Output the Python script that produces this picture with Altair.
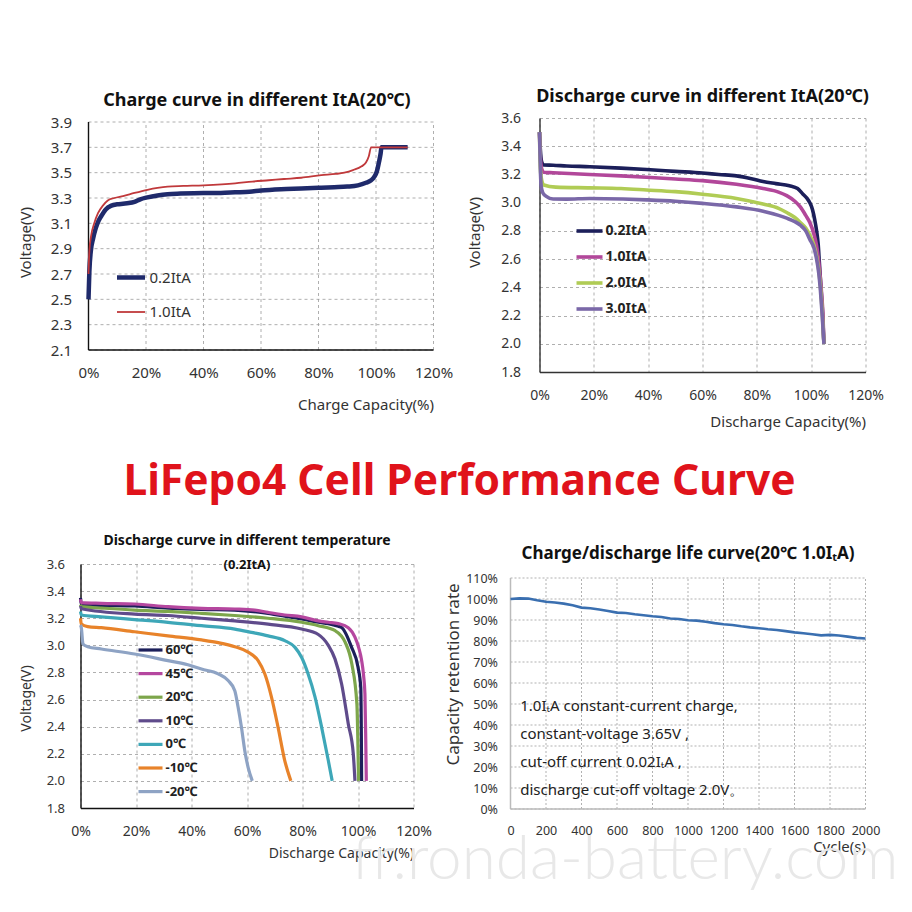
import altair as alt
import pandas as pd

# ---------------- Panel 1: charge curve (20C) ----------------
chg_names = ["0.2ItA", "1.0ItA"]
chg_colors = ["#1f2a6b", "#c0393b"]
chg_02_cap = [0, 0.3, 0.8, 1.6, 2.5, 3.5, 4.5, 6, 8, 10, 12, 14, 16, 18, 20.5, 24, 27.5, 32, 40, 46, 51, 56, 60, 67, 74, 80, 85.5, 90, 93.7, 96.5, 98.3, 99.5, 100.3, 101, 101.6, 101.9, 104, 108, 111]
chg_02_v = [2.50, 2.72, 2.88, 2.98, 3.06, 3.12, 3.16, 3.21, 3.24, 3.25, 3.255, 3.26, 3.27, 3.29, 3.305, 3.32, 3.33, 3.335, 3.34, 3.34, 3.345, 3.35, 3.36, 3.37, 3.375, 3.38, 3.385, 3.39, 3.40, 3.42, 3.44, 3.47, 3.51, 3.58, 3.65, 3.70, 3.70, 3.70, 3.70]
chg_10_cap = [0, 0.3, 0.9, 2, 3.3, 5, 6.7, 9, 12, 16, 20.5, 24, 27.5, 33, 40, 51, 57, 62.7, 68, 74, 81, 86, 89, 92, 95, 96.5, 97.5, 98.3, 100, 104, 108, 111]
chg_10_v = [2.70, 2.88, 3.00, 3.10, 3.18, 3.24, 3.28, 3.30, 3.315, 3.34, 3.365, 3.38, 3.39, 3.395, 3.40, 3.415, 3.43, 3.44, 3.45, 3.46, 3.48, 3.49, 3.50, 3.52, 3.55, 3.58, 3.63, 3.70, 3.70, 3.70, 3.70, 3.70]
chg_v_ticks = [2.1, 2.3, 2.5, 2.7, 2.9, 3.1, 3.3, 3.5, 3.7, 3.9]

# ---------------- Panel 2: discharge curve by ItA (20C) ----------------
dis_names = ["0.2ItA", "1.0ItA", "2.0ItA", "3.0ItA"]
dis_colors = ["#1c1f5a", "#b2479a", "#b0cc55", "#7a68a8"]
dis_02_cap = [0, 0.3, 0.8, 1.6, 5, 10, 18.5, 30, 39.4, 50, 60, 66, 72.5, 78, 82.3, 87, 92, 95, 97, 98.5, 99.5, 100.5, 101.3, 102, 102.6, 103, 103.4, 103.8, 104.2, 104.7]
dis_02_v = [3.50, 3.38, 3.29, 3.267, 3.265, 3.26, 3.255, 3.245, 3.235, 3.222, 3.21, 3.20, 3.19, 3.17, 3.15, 3.135, 3.12, 3.10, 3.06, 3.03, 3.00, 2.95, 2.88, 2.80, 2.70, 2.58, 2.46, 2.34, 2.22, 2.00]
dis_10_cap = [0, 0.3, 0.8, 1.6, 5, 18.5, 30, 39.4, 50, 60, 72.5, 82.3, 88, 91, 94, 96, 98, 99.5, 101, 102, 102.8, 103.4, 103.9, 104.3, 104.7]
dis_10_v = [3.50, 3.33, 3.24, 3.215, 3.212, 3.20, 3.19, 3.18, 3.168, 3.156, 3.13, 3.10, 3.075, 3.05, 3.01, 2.97, 2.91, 2.86, 2.78, 2.695, 2.58, 2.46, 2.34, 2.22, 2.00]
dis_20_cap = [0, 0.3, 0.8, 1.6, 6, 18.5, 30, 39.4, 50, 60, 72.5, 82.3, 88, 91, 94, 96, 98, 99.5, 101, 102, 102.8, 103.4, 104, 104.7]
dis_20_v = [3.50, 3.25, 3.16, 3.125, 3.11, 3.105, 3.10, 3.09, 3.078, 3.06, 3.03, 2.99, 2.96, 2.93, 2.895, 2.86, 2.82, 2.77, 2.70, 2.62, 2.52, 2.41, 2.25, 2.00]
dis_30_cap = [0, 0.3, 0.6, 1.2, 2.5, 5, 10, 18.5, 30.8, 39.4, 50, 60, 72.5, 82.3, 88, 91, 94, 96, 98, 99.5, 101, 102, 102.8, 103.4, 104, 104.7]
dis_30_v = [3.50, 3.25, 3.12, 3.07, 3.045, 3.026, 3.025, 3.03, 3.026, 3.02, 3.01, 2.995, 2.97, 2.94, 2.91, 2.89, 2.865, 2.84, 2.80, 2.74, 2.68, 2.60, 2.50, 2.38, 2.22, 2.00]
dis_v_ticks = [1.8, 2.0, 2.2, 2.4, 2.6, 2.8, 3.0, 3.2, 3.4, 3.6]

# ---------------- Panel 3: discharge by temperature (0.2ItA) ----------------
tmp_names = ["60℃", "45℃", "20℃", "10℃", "0℃", "-10℃", "-20℃"]
tmp_colors = ["#1c1f5a", "#b5479f", "#7da64b", "#5f4b8b", "#3ea7b8", "#e8832a", "#8ea3c4"]
tmp_widths = [3.2, 3.2, 2.2, 2.2, 2.0, 2.2, 2.0]
tmp_60_cap = [0, 0.3, 7.5, 19.5, 31.5, 43.6, 55.6, 67.6, 73.6, 79.7, 85.7, 89.3, 92.9, 94.2, 97.7, 100, 101, 101.2, 101.3]
tmp_60_v = [3.35, 3.30, 3.295, 3.29, 3.275, 3.265, 3.26, 3.235, 3.215, 3.195, 3.17, 3.16, 3.14, 3.13, 2.985, 2.84, 2.69, 2.35, 2.00]
tmp_45_cap = [0, 0.3, 7.5, 19.5, 31.5, 43.6, 55.6, 62.8, 67.6, 73.6, 79.7, 85.7, 89.3, 92.9, 96.5, 98.9, 100.3, 101.3, 102, 102.5, 102.8, 103]
tmp_45_v = [3.34, 3.315, 3.31, 3.305, 3.285, 3.273, 3.268, 3.26, 3.243, 3.224, 3.21, 3.18, 3.17, 3.16, 3.13, 3.06, 2.98, 2.89, 2.78, 2.64, 2.30, 2.00]
tmp_20_cap = [0, 0.3, 7.5, 19.5, 31.5, 43.6, 55.6, 67.6, 79.7, 85.7, 91.8, 95.4, 97.8, 99.6, 100.2]
tmp_20_v = [3.30, 3.285, 3.275, 3.26, 3.25, 3.236, 3.22, 3.20, 3.17, 3.145, 3.108, 3.022, 2.86, 2.567, 2.00]
tmp_10_cap = [0, 0.3, 19.5, 31.5, 43.6, 55.6, 67.6, 79.7, 85.7, 89.3, 91.7, 94.1, 96.5, 98.3, 98.9]
tmp_10_v = [3.29, 3.27, 3.23, 3.22, 3.20, 3.18, 3.156, 3.12, 3.08, 3.00, 2.90, 2.715, 2.42, 2.20, 2.00]
tmp_0_cap = [0, 0.3, 7.5, 19.5, 31.5, 43.6, 55.6, 61.6, 67.6, 73.6, 77.3, 79.7, 82, 84.5, 86.9, 89.3, 90.7]
tmp_0_v = [3.25, 3.224, 3.21, 3.19, 3.17, 3.145, 3.12, 3.096, 3.07, 3.035, 2.985, 2.91, 2.79, 2.62, 2.395, 2.15, 2.00]
tmp_m10_cap = [0, 0.3, 2.6, 7.5, 19.5, 31.5, 43.6, 49.6, 55.6, 60.4, 64, 66.4, 68.8, 71.2, 73.6, 75.8]
tmp_m10_v = [3.20, 3.157, 3.138, 3.13, 3.10, 3.07, 3.04, 3.02, 2.99, 2.95, 2.887, 2.79, 2.62, 2.395, 2.15, 2.00]
tmp_m20_cap = [0, 0.3, 0.9, 2.6, 7.5, 19.5, 31.5, 38.7, 43.6, 49.6, 53.2, 55.6, 56.8, 58, 59.2, 60.4, 61.9]
tmp_m20_v = [3.15, 3.13, 3.01, 2.99, 2.973, 2.936, 2.887, 2.857, 2.825, 2.79, 2.74, 2.665, 2.543, 2.395, 2.223, 2.10, 2.00]

pct_ticks = [0, 20, 40, 60, 80, 100, 120]

# ---------------- Panel 4: cycle life ----------------
life_cycles = [0, 50, 100, 150, 200, 250, 300, 350, 400, 450, 500, 550, 600, 650, 700, 750, 800, 850, 900, 950,
               1000, 1050, 1100, 1150, 1200, 1250, 1300, 1350, 1400, 1450, 1500, 1550, 1600, 1650, 1700, 1750,
               1800, 1850, 1900, 1950, 2000]
life_retention = [100.0, 100.3, 100.2, 99.4, 98.7, 98.3, 97.8, 97.0, 95.9, 95.6, 95.0, 94.3, 93.5, 93.3, 92.7, 92.3,
                  91.8, 91.4, 90.7, 90.5, 89.9, 89.7, 89.2, 88.5, 88.0, 87.6, 87.0, 86.5, 86.1, 85.6, 85.2, 84.7,
                  84.1, 83.7, 83.2, 82.7, 82.9, 82.6, 82.1, 81.5, 81.2]
cycle_ticks = [0, 200, 400, 600, 800, 1000, 1200, 1400, 1600, 1800, 2000]
ret_ticks = [0, 10, 20, 30, 40, 50, 60, 70, 80, 90, 100, 110]
note_lines = ["1.0IₜA constant-current charge,", "constant-voltage 3.65V ,",
              "cut-off current 0.02IₜA ,", "discharge cut-off voltage 2.0V。"]
note_cycle = [55, 55, 55, 55]
note_ret = [49.0, 35.7, 22.4, 9.0]

FONT = "Noto Sans"
TXT = "#333333"


def frame(pairs):
    rows = []
    for name, xs, ys in pairs:
        for i, (x, y) in enumerate(zip(xs, ys)):
            rows.append({"s": name, "cap": x, "v": y, "i": i})
    return pd.DataFrame(rows)


def ax(**kw):
    d = dict(ticks=False, labelFont=FONT, labelColor=TXT, titleFont=FONT, titleColor=TXT,
             titleFontWeight="normal", gridColor="#9a9a9a", gridDash=[3, 3], gridWidth=0.8,
             domainColor="#111111", domainWidth=1.4, labelFlush=False, labelOverlap=False)
    d.update(kw)
    return alt.Axis(**d)


def ptitle(text, size, **kw):
    d = dict(text=text, font=FONT, fontSize=size, fontWeight="bold", color="#111111",
             anchor="middle", frame="group")
    d.update(kw)
    return alt.TitleParams(**d)


def grid_layers(X, Y, xf, yf, xticks, yticks, xr, yr, grid_style, axis_color, axis_width):
    """Grid and axis lines drawn as rules inside the data range only."""
    vg = pd.DataFrame({xf: xticks, yf: [yr[0]] * len(xticks), yf + "2": [yr[1]] * len(xticks)})
    hg = pd.DataFrame({xf: [xr[0]] * len(yticks), xf + "2": [xr[1]] * len(yticks), yf: yticks})
    av = pd.DataFrame({xf: [xr[0]], yf: [yr[0]], yf + "2": [yr[1]]})
    ah = pd.DataFrame({xf: [xr[0]], xf + "2": [xr[1]], yf: [yr[0]]})
    return [
        alt.Chart(vg).mark_rule(**grid_style).encode(x=X, y=Y, y2=f"{yf}2:Q"),
        alt.Chart(hg).mark_rule(**grid_style).encode(x=X, x2=f"{xf}2:Q", y=Y),
        alt.Chart(av).mark_rule(color=axis_color, strokeWidth=axis_width).encode(x=X, y=Y, y2=f"{yf}2:Q"),
        alt.Chart(ah).mark_rule(color=axis_color, strokeWidth=axis_width).encode(x=X, x2=f"{xf}2:Q", y=Y),
    ]


# ---- panel 1 (plot frame widened 8px left / 4px up so it aligns with its neighbours) ----
p1_w, p1_h = 353, 232
p1_xr, p1_yr = [0, 120], [2.1, 3.9]
df1 = frame([("0.2ItA", chg_02_cap, chg_02_v), ("1.0ItA", chg_10_cap, chg_10_v)])
X1 = alt.X("cap:Q", scale=alt.Scale(domain=[-8 * 120 / 345, 120], nice=False, zero=False),
           axis=ax(values=pct_ticks, labelExpr="datum.value + '%'", title="Charge Capacity(%)", grid=False,
                   domain=False, titleAnchor="end", labelFontSize=15, titleFontSize=15, labelPadding=15,
                   titlePadding=17))
Y1 = alt.Y("v:Q", scale=alt.Scale(domain=[2.1, 3.9 + 4 * 1.8 / 228], nice=False, zero=False),
           axis=ax(values=chg_v_ticks, format=".1f", title="Voltage(V)", grid=False, domain=False,
                   labelFontSize=15, titleFontSize=15, labelPadding=9, titlePadding=17, titleY=124))
leg1 = alt.Legend(orient="none", legendX=34, legendY=143, title=None, symbolType="stroke",
                  symbolSize=784, labelFont=FONT, labelFontSize=15, labelColor=TXT,
                  rowPadding=10, labelOffset=2, padding=0)
line1 = alt.Chart(df1).mark_line(interpolate="monotone").encode(
    x=X1, y=Y1,
    color=alt.Color("s:N", scale=alt.Scale(domain=chg_names, range=chg_colors), legend=leg1),
    strokeWidth=alt.StrokeWidth("s:N", scale=alt.Scale(domain=chg_names, range=[4.5, 1.8]), legend=leg1),
    order=alt.Order("i:Q"),
)
g1 = grid_layers(X1, Y1, "cap", "v", pct_ticks, chg_v_ticks, p1_xr, p1_yr,
                 dict(color="#9a9a9a", strokeDash=[3, 3], strokeWidth=0.8), "#111111", 1.4)
p1 = alt.layer(*g1, line1).properties(
    width=p1_w, height=p1_h, title=ptitle("Charge curve in different ItA(20℃)", 18, offset=5))

# ---- panel 2 ----
df2 = frame([("0.2ItA", dis_02_cap, dis_02_v), ("1.0ItA", dis_10_cap, dis_10_v),
             ("2.0ItA", dis_20_cap, dis_20_v), ("3.0ItA", dis_30_cap, dis_30_v)])
leg2 = alt.Legend(orient="none", legendX=35, legendY=98, title=None, symbolType="stroke",
                  symbolSize=676, labelFont=FONT, labelFontSize=14, labelFontWeight="bold",
                  labelColor="#222222", rowPadding=3.0, labelOffset=1, padding=0)
p2 = alt.Chart(df2, title=ptitle("Discharge curve in different ItA(20℃)", 18, offset=5)).mark_line(
    interpolate="monotone").encode(
    x=alt.X("cap:Q", scale=alt.Scale(domain=[0, 120], nice=False),
            axis=ax(values=pct_ticks, labelExpr="datum.value + '%'", title="Discharge Capacity(%)",
                    titleAnchor="end", labelFontSize=14, titleFontSize=15, labelPadding=16, titlePadding=12,
                    domainColor="#333333")),
    y=alt.Y("v:Q", scale=alt.Scale(domain=[1.8, 3.6], nice=False, zero=False),
            axis=ax(values=dis_v_ticks, format=".1f", title="Voltage(V)", labelFontSize=14,
                    titleFontSize=15, labelPadding=19, titlePadding=18, titleY=114, domainColor="#333333")),
    color=alt.Color("s:N", scale=alt.Scale(domain=dis_names, range=dis_colors), legend=leg2),
    strokeWidth=alt.StrokeWidth("s:N", scale=alt.Scale(domain=dis_names, range=[3.6, 3.6, 2.4, 2.0]), legend=leg2),
    order=alt.Order("i:Q"),
).properties(width=326, height=254)

# ---- panel 3 ----
df3 = frame([("60℃", tmp_60_cap, tmp_60_v), ("45℃", tmp_45_cap, tmp_45_v), ("20℃", tmp_20_cap, tmp_20_v),
             ("10℃", tmp_10_cap, tmp_10_v), ("0℃", tmp_0_cap, tmp_0_v), ("-10℃", tmp_m10_cap, tmp_m10_v),
             ("-20℃", tmp_m20_cap, tmp_m20_v)])
leg3 = alt.Legend(orient="none", legendX=56, legendY=72, title=None, symbolType="stroke",
                  symbolSize=576, labelFont=FONT, labelFontSize=13, labelFontWeight="bold",
                  labelColor="#222222", rowPadding=2.6, labelOffset=1, padding=0)
p3 = alt.Chart(df3, title=ptitle("Discharge curve in different temperature", 14,
                                 subtitle="(0.2ItA)", subtitleFont=FONT, subtitleFontSize=13,
                                 subtitleFontWeight="bold", subtitleColor="#111111",
                                 subtitlePadding=11.5, offset=-14)).mark_line(interpolate="monotone").encode(
    x=alt.X("cap:Q", scale=alt.Scale(domain=[0, 120], nice=False),
            axis=ax(values=pct_ticks, labelExpr="datum.value + '%'", title="Discharge Capacity(%)",
                    titleAnchor="end", labelFontSize=14, titleFontSize=14, labelPadding=16, titlePadding=8)),
    y=alt.Y("v:Q", scale=alt.Scale(domain=[1.8, 3.6], nice=False, zero=False),
            axis=ax(values=dis_v_ticks, format=".1f", title="Voltage(V)", labelFontSize=13,
                    titleFontSize=14, labelPadding=16, titlePadding=13, titleY=134)),
    color=alt.Color("s:N", scale=alt.Scale(domain=tmp_names, range=tmp_colors), legend=leg3),
    strokeWidth=alt.StrokeWidth("s:N", scale=alt.Scale(domain=tmp_names, range=tmp_widths), legend=leg3),
    order=alt.Order("i:Q"),
).properties(width=333, height=244)

# ---- panel 4 (plot frame extended 14px up so it aligns with panel 3) ----
p4_w, p4_h = 355, 245
p4_xr, p4_yr = [0, 2000], [0, 110]
df4 = pd.DataFrame({"cycle": life_cycles, "ret": life_retention})
df4n = pd.DataFrame({"cycle": note_cycle, "ret": note_ret, "t": note_lines})
X4 = alt.X("cycle:Q", scale=alt.Scale(domain=[0, 2000], nice=False),
           axis=ax(values=cycle_ticks, format="d", title="Cycle(s)", titleAnchor="end", labelFontSize=12.5,
                   titleFontSize=15, labelPadding=15, titlePadding=3, grid=False, domain=False))
Y4 = alt.Y("ret:Q", scale=alt.Scale(domain=[0, 110 * p4_h / 231], nice=False),
           axis=ax(values=ret_ticks, labelExpr="datum.value + '%'", title="Capacity retention rate",
                   labelFontSize=12.5, titleFontSize=17, labelPadding=13, titlePadding=3, titleY=110,
                   grid=False, domain=False))
g4 = grid_layers(X4, Y4, "cycle", "ret", cycle_ticks, ret_ticks, p4_xr, p4_yr,
                 dict(color="#a8a8a8", strokeDash=[2, 2], strokeWidth=0.9), "#bbbbbb", 1.5)
life_line = alt.Chart(df4).mark_line(color="#3a6fb0", strokeWidth=2.6).encode(x=X4, y=Y4)
notes = alt.Chart(df4n).mark_text(align="left", baseline="middle", font=FONT, fontSize=15,
                                  color="#222222").encode(x=X4, y=Y4, text="t:N")
p4 = alt.layer(*g4, life_line, notes).properties(
    width=p4_w, height=p4_h,
    title=ptitle("Charge/discharge life curve(20℃ 1.0IₜA)", 17, offset=1.5))

indep = dict(color="independent", strokeWidth="independent")
row1 = alt.hconcat(p1, p2, spacing=14).resolve_scale(**indep)
row3 = alt.hconcat(p3, p4, spacing=13).resolve_scale(**indep).properties(
    title=alt.TitleParams("LiFepo4 Cell Performance Curve", font=FONT,
                          fontSize=42.5, fontWeight="bold", color="#e0131b", anchor="middle", offset=30, dx=10))

chart = alt.vconcat(row1, row3, spacing=32).resolve_scale(**indep).properties(
    title=alt.TitleParams("fr.ronda-battery.com", orient="bottom", anchor="end", font="Lato",
                          fontWeight=300, fontSize=62, color="#e8e8e8", offset=-30, dx=15),
    padding={"left": 9.5, "top": 80, "right": 0, "bottom": 0},
).configure_view(stroke=None)

chart.save("out.html", embed_options={"renderer": "svg", "actions": False})
